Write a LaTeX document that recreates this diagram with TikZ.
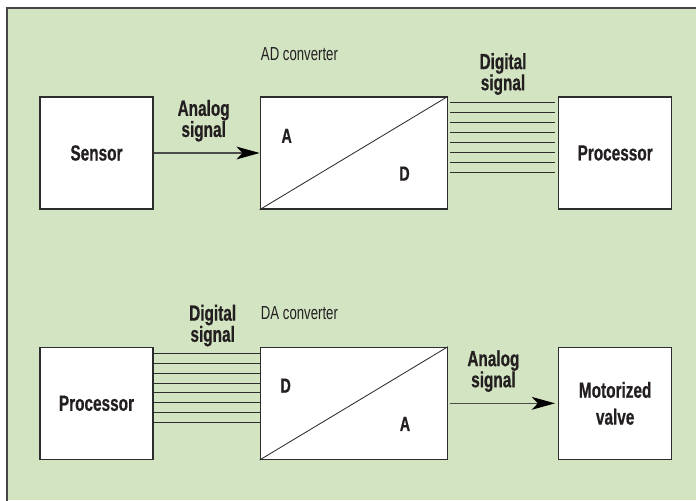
\documentclass[tikz,border=0pt]{standalone}
\usepackage{fontspec}
\setmainfont{Liberation Sans}[FakeStretch=0.7, BoldFeatures={FakeBold=0.6}]
\usetikzlibrary{arrows.meta, positioning, calc}
\definecolor{convgreen}{RGB}{211,228,194}
\definecolor{convframe}{RGB}{70,70,70}
\definecolor{convline}{RGB}{45,45,45}
\definecolor{convtext}{RGB}{35,31,32}

\begin{document}
\begin{tikzpicture}[
    x=0.025cm, y=0.025cm,
    block/.style={rectangle, draw=convline, fill=white, line width=0.9pt,
                  minimum width=2.825cm, minimum height=2.8cm, align=center,
                  text=convtext, font=\fontsize{15.6}{15.6}\selectfont\bfseries},
    converter/.style={block, minimum width=4.675cm},
    sig/.style={align=center, inner sep=0pt, text=convtext,
                font=\fontsize{15.6}{15}\selectfont\bfseries},
    letter/.style={inner sep=0pt, text=convtext,
                   font=\fontsize{14.5}{14.5}\selectfont\bfseries},
    caption/.style={anchor=base west, inner sep=0pt, text=convtext,
                    font=\fontsize{13.4}{13.4}\selectfont},
    arrow/.style={-{Stealth[length=0.58cm, width=0.32cm, inset=0.15cm, color=black]},
                  line width=0.9pt, convline!85},
    bus/.style={line width=0.6pt, convline},
    node distance=3.425cm and 2.65cm
]
\clip (0,0) rectangle (696,500);
\fill[convgreen] (7,0) rectangle (696,492);
\draw[convframe, line width=1.1pt] (7,-10) |- (710,492);

\node[block] (Sensor) at (96.5,347) {Sensor};
\node[converter, right=of Sensor] (ADC) {};
\node[block, right=2.75cm of ADC] (Proc1) {Processor};
\node[block, below=of Sensor] (Proc2) {Processor};
\node[converter, right=of Proc2] (DAC) {};
\node[block, right=2.75cm of DAC] (Valve) {Motorized\\[3.5pt]valve};

\draw[bus] (ADC.south west) -- (ADC.north east);
\draw[bus] (DAC.south west) -- (DAC.north east);
\node[letter] (ADA) at ($(ADC.north west)+(27,-39.5)$) {A};
\node[letter] (ADD) at ($(ADC.south east)+(-43.5,36)$) {D};
\node[letter] (DAD) at ($(DAC.north west)+(26,-39)$) {D};
\node[letter] (DAA) at ($(DAC.south east)+(-43,36)$) {A};
\node[caption] (ADlbl) at ($(ADC.north west)+(1,36)$) {AD converter};
\node[caption] (DAlbl) at ($(DAC.north west)+(1,27)$) {DA converter};

\draw[arrow] (Sensor) -- node[sig, above=0.27cm, xshift=-0.075cm] (AnIn) {Analog\\signal} (ADC);
\draw[arrow, shorten <=0.05cm, shorten >=0.075cm] (DAC) --
    node[sig, above=0.27cm, xshift=-0.24cm] (AnOut) {Analog\\signal} (Valve);

\foreach \k in {0,...,7} {
  \draw[bus] ($(ADC.north east)+(2,{-6.5-9.93*\k})$) -- ($(Proc1.north west)+(-3,{-6.5-9.93*\k})$);
  \draw[bus] ($(Proc2.north east)+(0,{-6.5-9.93*\k})$) -- ($(DAC.north west)+(0,{-6.5-9.93*\k})$);
}
\path (ADC.north east) -- node[sig, above=0.03cm] (DigOut) {Digital\\signal} (Proc1.north west);
\path (Proc2.north east) -- node[sig, above=0pt, xshift=0.15cm] (DigIn) {Digital\\signal} (DAC.north west);
\end{tikzpicture}
\end{document}
